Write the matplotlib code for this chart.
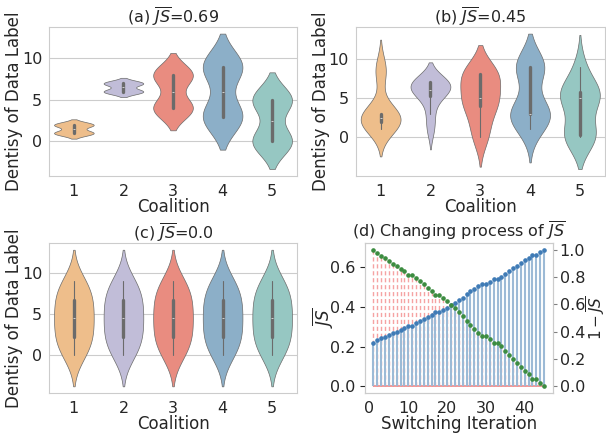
import numpy as np
import pandas as pd
import matplotlib
matplotlib.use("Agg")
import matplotlib.pyplot as plt
import seaborn as sns

coalitions = ["1", "2", "3", "4", "5"]
palette = ["#FFBE7A", "#BEB8DC", "#FA7F6F", "#82B0D2", "#8ECFC9"]

# data labels held by each coalition, 10 samples per coalition
labels_a = [
    [1, 1, 1, 1, 1, 2, 2, 2, 2, 2],
    [6, 6, 6, 6, 6, 7, 7, 7, 7, 7],
    [4, 4, 4, 4, 4, 8, 8, 8, 8, 8],
    [3, 3, 3, 3, 3, 9, 9, 9, 9, 9],
    [0, 0, 0, 0, 0, 5, 5, 5, 5, 5],
]
labels_b = [
    [1, 2, 2, 2, 2, 3, 3, 3, 8, 9],
    [1, 3, 5, 6, 6, 6, 7, 7, 7, 7],
    [0, 1, 4, 4, 5, 5, 8, 8, 8, 8],
    [1, 3, 3, 3, 3, 3, 9, 9, 9, 9],
    [0, 0, 0, 1, 5, 5, 5, 6, 6, 9],
]
labels_c = [
    [0, 1, 2, 3, 4, 5, 6, 7, 8, 9],
    [0, 1, 2, 3, 4, 5, 6, 7, 8, 9],
    [0, 1, 2, 3, 4, 5, 6, 7, 8, 9],
    [0, 1, 2, 3, 4, 5, 6, 7, 8, 9],
    [0, 1, 2, 3, 4, 5, 6, 7, 8, 9],
]
titles = ["(a) $\\overline{JS}$=0.69", "(b) $\\overline{JS}$=0.45", "(c) $\\overline{JS}$=0.0"]

# switching process
iters = np.arange(1, 46)
js = [0.220, 0.232, 0.243, 0.250, 0.258, 0.268, 0.276, 0.286, 0.294, 0.306,
      0.306, 0.318, 0.329, 0.338, 0.351, 0.362, 0.375, 0.375, 0.385, 0.397,
      0.408, 0.420, 0.434, 0.448, 0.466, 0.479, 0.493, 0.504, 0.516, 0.516,
      0.526, 0.541, 0.541, 0.552, 0.567, 0.582, 0.595, 0.608, 0.622, 0.635,
      0.648, 0.663, 0.663, 0.676, 0.689]
one_minus = [1.000, 0.974, 0.951, 0.936, 0.919, 0.898, 0.881, 0.859, 0.842, 0.817,
             0.817, 0.791, 0.768, 0.748, 0.721, 0.697, 0.670, 0.670, 0.648, 0.623,
             0.599, 0.574, 0.544, 0.514, 0.475, 0.448, 0.418, 0.394, 0.369, 0.369,
             0.348, 0.316, 0.316, 0.292, 0.260, 0.228, 0.200, 0.173, 0.143, 0.115,
             0.087, 0.055, 0.055, 0.028, 0.000]

sns.set_style("whitegrid")
plt.rcParams["font.family"] = ["DejaVu Sans"]
plt.rcParams["font.size"] = 12
plt.rcParams["axes.titlesize"] = 11.5
plt.rcParams["axes.labelsize"] = 12
plt.rcParams["xtick.labelsize"] = 11.5
plt.rcParams["ytick.labelsize"] = 11.5
plt.rcParams["xtick.major.pad"] = 2.5
plt.rcParams["ytick.major.pad"] = 1.5

fig = plt.figure(figsize=(6.06, 4.33), dpi=100)
positions = [[0.081, 0.594, 0.409, 0.344],
             [0.587, 0.594, 0.411, 0.344],
             [0.081, 0.092, 0.409, 0.347]]
groups_all = [labels_a, labels_b, labels_c]

for pos, groups, title in zip(positions, groups_all, titles):
    ax = fig.add_axes(pos)
    df = pd.DataFrame({
        "Coalition": np.repeat(coalitions, [len(g) for g in groups]),
        "label": np.concatenate(groups),
    })
    sns.violinplot(data=df, x="Coalition", y="label", hue="Coalition",
                   palette=palette, legend=False, density_norm="width",
                   inner="box", linewidth=0.5, linecolor="0.42",
                   inner_kws=dict(box_width=2.4, whis_width=0.8), ax=ax)
    ax.set_title(title, pad=2)
    ax.set_xlabel("Coalition", labelpad=-1)
    ax.set_ylabel("Dentisy of Data Label", labelpad=-1)
    ax.set_yticks([0, 5, 10])

# (d)
ax = fig.add_axes([0.602, 0.092, 0.310, 0.347])
ax2 = ax.twinx()
ax.set_zorder(ax2.get_zorder() + 1)
ax.patch.set_visible(False)

ax2.vlines(iters, 0, one_minus, colors="#F5A3A3", linestyles=(0, (3, 2)), linewidth=1.0)
ax2.hlines(0, iters[0], iters[-1], colors="#EE8A8A", linewidth=1.2)
ax.vlines(iters, 0, js, colors="#9CBAD6", linewidth=1.5)
ax.plot(iters, js, "o", ms=2.3, color="#3F7BB6")
ax.plot(iters, one_minus, "o", ms=2.3, color="#3C8C40", transform=ax2.transData)

ax.set_ylim(-0.0345, 0.7235)
ax2.set_ylim(-0.05, 1.05)
ax.set_xlim(-1.2, 47.2)
ax.set_xticks([0, 10, 20, 30, 40])
ax.set_yticks([0.0, 0.2, 0.4, 0.6])
ax2.set_yticks([0.0, 0.2, 0.4, 0.6, 0.8, 1.0])
ax.grid(False)
ax2.grid(False)
ax.tick_params(axis="y", pad=3)
ax2.tick_params(axis="y", right=True, length=3, color="0.5", pad=2)
ax.set_title("(d) Changing process of $\\overline{JS}$", pad=2)
ax.set_xlabel("Switching Iteration", labelpad=-1)
ax.set_ylabel("$\\overline{JS}$", labelpad=-3)
ax2.set_ylabel("$1-\\overline{JS}$", labelpad=0, fontsize=11)

fig.savefig("out.png", dpi=100)
